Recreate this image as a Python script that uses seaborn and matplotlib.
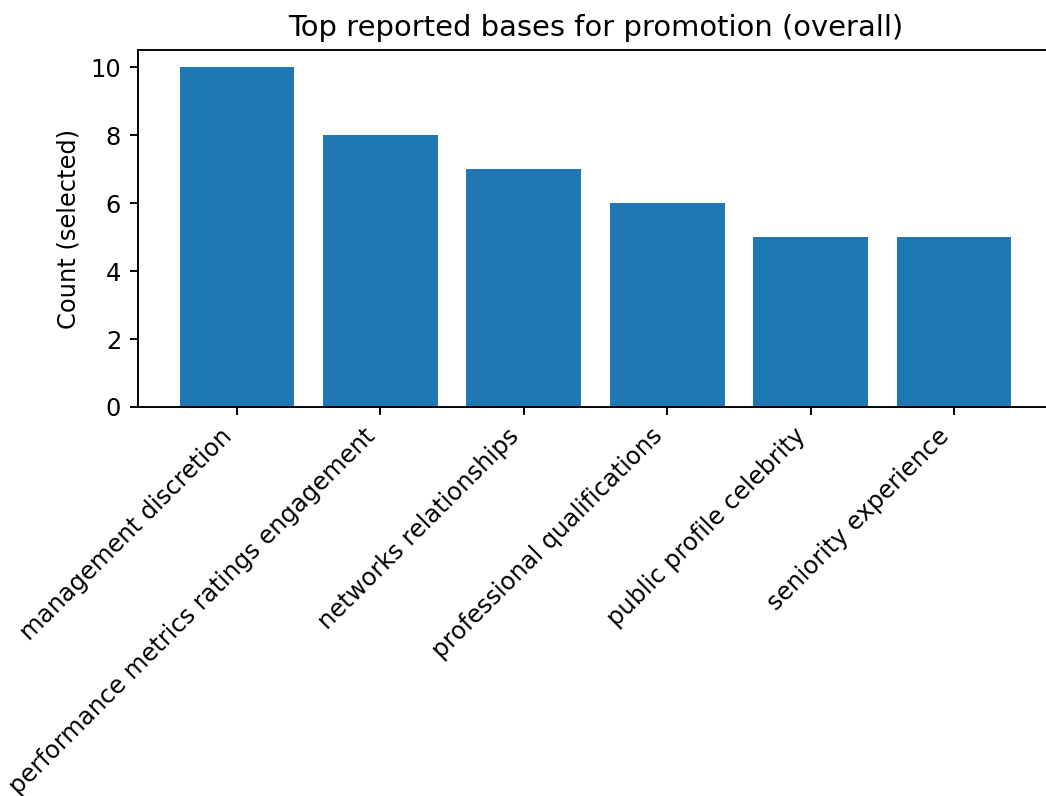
import matplotlib
matplotlib.use("Agg")
import matplotlib.pyplot as plt
import seaborn as sns
import pandas as pd

# values
bases = [
    "management discretion",
    "performance metrics ratings engagement",
    "networks relationships",
    "professional qualifications",
    "public profile celebrity",
    "seniority experience",
]
counts = [10, 8, 7, 6, 5, 5]

df = pd.DataFrame({"basis": bases, "count": counts})

dpi = 174
fig, ax = plt.subplots(figsize=(1046 / dpi, 796 / dpi), dpi=dpi)
sns.barplot(data=df, x="basis", y="count", color="#1f77b4", saturation=1,
            width=0.8, ax=ax)

ax.set_title("Top reported bases for promotion (overall)")
ax.set_xlabel("")
ax.set_ylabel("Count (selected)")
# matplotlib's default 5% margins around the bars
ax.set_xlim(-0.69, 5.69)
ax.set_ylim(0, 10.5)
ax.set_xticks(range(len(bases)))
ax.set_xticklabels(bases, rotation=45, ha="right")

# the reference is cropped slightly on the right, so no right spine shows
ax.spines["right"].set_visible(False)
fig.subplots_adjust(left=0.1319, right=1.0067, top=0.9366, bottom=0.4887)
fig.savefig("out.png", dpi=dpi)
